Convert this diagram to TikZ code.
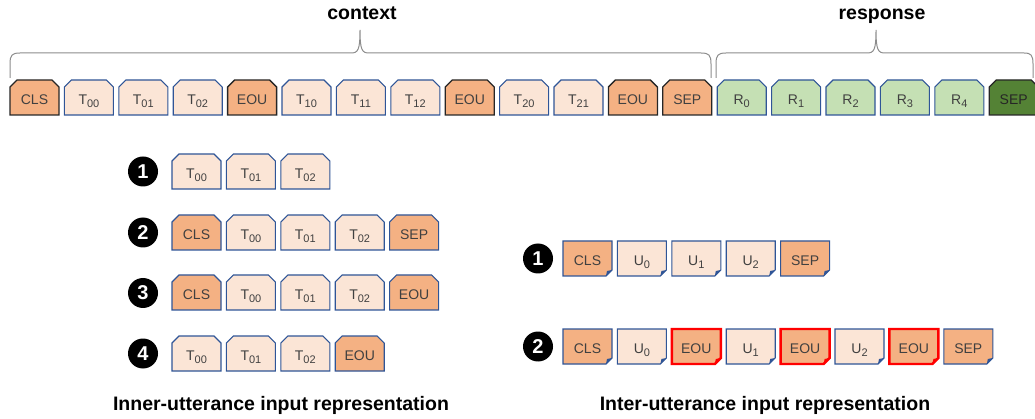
\documentclass[tikz,border=0pt]{standalone}
\usepackage{fontspec}
\setmainfont{Liberation Sans}
\usetikzlibrary{calc}
\pgfdeclarelayer{background}
\pgfsetlayers{background,main}

\definecolor{tokOrange}{HTML}{F4B183}
\definecolor{tokPeach}{HTML}{FBE5D6}
\definecolor{tokGreen}{HTML}{C5E0B4}
\definecolor{tokDarkGreen}{HTML}{548235}
\definecolor{lineBlue}{HTML}{2F5597}
\definecolor{lineDark}{HTML}{262626}
\definecolor{lineRed}{HTML}{FF0000}
\definecolor{txtGray}{HTML}{404040}
\definecolor{braceGray}{HTML}{8C8C8C}

% subscript digits of a token
\newcommand\tsub[1]{\raisebox{-3.5pt}{\fontsize{11}{11}\selectfont #1}}

\tikzset{
  tok/.style={rectangle, inner sep=0pt, outer sep=0pt,
    minimum width=49pt, minimum height=35pt, text height=13.5pt, text depth=0pt,
    font=\fontsize{14}{14}\selectfont, text=txtGray},
  orangeD/.style={fill=tokOrange, draw=lineDark, line width=1.3pt},
  orangeB/.style={fill=tokOrange, draw=lineBlue, line width=1.1pt},
  peach/.style={fill=tokPeach, draw=lineBlue, line width=1.1pt},
  green/.style={fill=tokGreen, draw=lineBlue, line width=1.1pt},
  greenD/.style={fill=tokDarkGreen, draw=lineDark, line width=1.3pt},
  orangeR/.style={fill=tokOrange, draw=lineRed, line width=2.4pt},
  numc/.style={circle, fill=black, minimum size=30pt, inner sep=0pt,
    text=white, font=\bfseries\fontsize{20}{20}\selectfont},
  title/.style={anchor=base, font=\bfseries\fontsize{19.5}{19.5}\selectfont},
  brace/.style={draw=braceGray, line width=1pt},
}

% token with both top corners snipped: name, left x, top y, look, text
\newcommand\snipTok[5]{%
  \node[tok] (#1) at ({#2+24.5},{#3+17.5}) {#5};
  \begin{pgfonlayer}{background}
    \path[#4, line join=miter] (#1.south west) -- ([yshift=-7pt]#1.north west)
      -- ([xshift=7pt]#1.north west) -- ([xshift=-7pt]#1.north east)
      -- ([yshift=-7pt]#1.north east) -- (#1.south east) -- cycle;
  \end{pgfonlayer}
}

% token with a folded bottom-right corner: name, left x, top y, look, fold colour, text
\newcommand\foldTok[6]{%
  \node[tok] (#1) at ({#2+24.5},{#3+17.5}) {#6};
  \begin{pgfonlayer}{background}
    \path[#4, line join=miter] (#1.north west) -- (#1.north east)
      -- ([yshift=6pt]#1.south east) -- ([xshift=-6pt]#1.south east)
      -- (#1.south west) -- cycle;
    \fill[#5] ([yshift=6pt]#1.south east) -- ([xshift=-6pt]#1.south east)
      -- ([xshift=-5pt,yshift=5pt]#1.south east) -- cycle;
  \end{pgfonlayer}
}

\begin{document}
\begin{tikzpicture}[x=1pt, y=-1pt]
\useasboundingbox (0,0) rectangle (1035,419);

% ---- full input sequence ----
\foreach \i/\t/\s in {
  0/CLS/orangeD, 1/T\tsub{00}/peach, 2/T\tsub{01}/peach, 3/T\tsub{02}/peach,
  4/EOU/orangeD, 5/T\tsub{10}/peach, 6/T\tsub{11}/peach, 7/T\tsub{12}/peach,
  8/EOU/orangeD, 9/T\tsub{20}/peach, 10/T\tsub{21}/peach, 11/EOU/orangeD,
  12/SEP/orangeD, 13/R\tsub{0}/green, 14/R\tsub{1}/green, 15/R\tsub{2}/green,
  16/R\tsub{3}/green, 17/R\tsub{4}/green}
  {\snipTok{top\i}{10+54.4*\i}{80}{\s}{\t}}
\snipTok{top18}{10+54.4*18}{80}{greenD}{\textcolor{lineDark}{SEP}}

% braces over context and response
\path[brace] (10,78) -- (10,64) .. controls (10,55) and (12,53) .. (20,53)
  -- (351,53) .. controls (358,53) and (360,50) .. (360,30)
  .. controls (360,50) and (362,53) .. (369,53)
  -- (701,53) .. controls (709,53) and (711,55) .. (711,64) -- (711,78);
\path[brace] (716,78) -- (716,64) .. controls (716,55) and (718,53) .. (726,53)
  -- (867,53) .. controls (874,53) and (876,50) .. (876,30)
  .. controls (876,50) and (878,53) .. (885,53)
  -- (1024,53) .. controls (1031,53) and (1033,55) .. (1033,64) -- (1033,78);

\node[title] (ctx) at (362,20) {context};
\node[title] (rsp) at (882,20) {response};

% ---- inner-utterance variants ----
\node[numc] (in1) at (143,171.5) {1};
\node[numc] (in2) at (143,232.5) {2};
\node[numc] (in3) at (143,293) {3};
\node[numc] (in4) at (143,353.5) {4};

\foreach \i/\t/\s in {0/T\tsub{00}/peach, 1/T\tsub{01}/peach, 2/T\tsub{02}/peach}
  {\snipTok{a\i}{172+54.4*\i}{154}{\s}{\t}}
\foreach \i/\t/\s in {0/CLS/orangeB, 1/T\tsub{00}/peach, 2/T\tsub{01}/peach,
  3/T\tsub{02}/peach, 4/SEP/orangeB}
  {\snipTok{b\i}{172+54.4*\i}{215}{\s}{\t}}
\foreach \i/\t/\s in {0/CLS/orangeB, 1/T\tsub{00}/peach, 2/T\tsub{01}/peach,
  3/T\tsub{02}/peach, 4/EOU/orangeB}
  {\snipTok{c\i}{172+54.4*\i}{275}{\s}{\t}}
\foreach \i/\t/\s in {0/T\tsub{00}/peach, 1/T\tsub{01}/peach, 2/T\tsub{02}/peach,
  3/EOU/orangeB}
  {\snipTok{d\i}{172+54.4*\i}{336}{\s}{\t}}

\node[title] (innerlbl) at (281,410) {Inner-utterance input representation};

% ---- inter-utterance variants ----
\node[numc] (it1) at (538,258.5) {1};
\node[numc] (it2) at (538,346.5) {2};

\foreach \i/\t/\s/\f in {0/CLS/orangeB/lineBlue, 1/U\tsub{0}/peach/lineBlue,
  2/U\tsub{1}/peach/lineBlue, 3/U\tsub{2}/peach/lineBlue, 4/SEP/orangeB/lineBlue}
  {\foldTok{e\i}{563+54.4*\i}{241}{\s}{\f}{\t}}
\foreach \i/\t/\s/\f in {0/CLS/orangeB/lineBlue, 1/U\tsub{0}/peach/lineBlue,
  2/EOU/orangeR/lineRed, 3/U\tsub{1}/peach/lineBlue, 4/EOU/orangeR/lineRed,
  5/U\tsub{2}/peach/lineBlue, 6/EOU/orangeR/lineRed, 7/SEP/orangeB/lineBlue}
  {\foldTok{f\i}{563+54.4*\i}{329}{\s}{\f}{\t}}

\node[title] (interlbl) at (765,410) {Inter-utterance input representation};
\end{tikzpicture}
\end{document}
